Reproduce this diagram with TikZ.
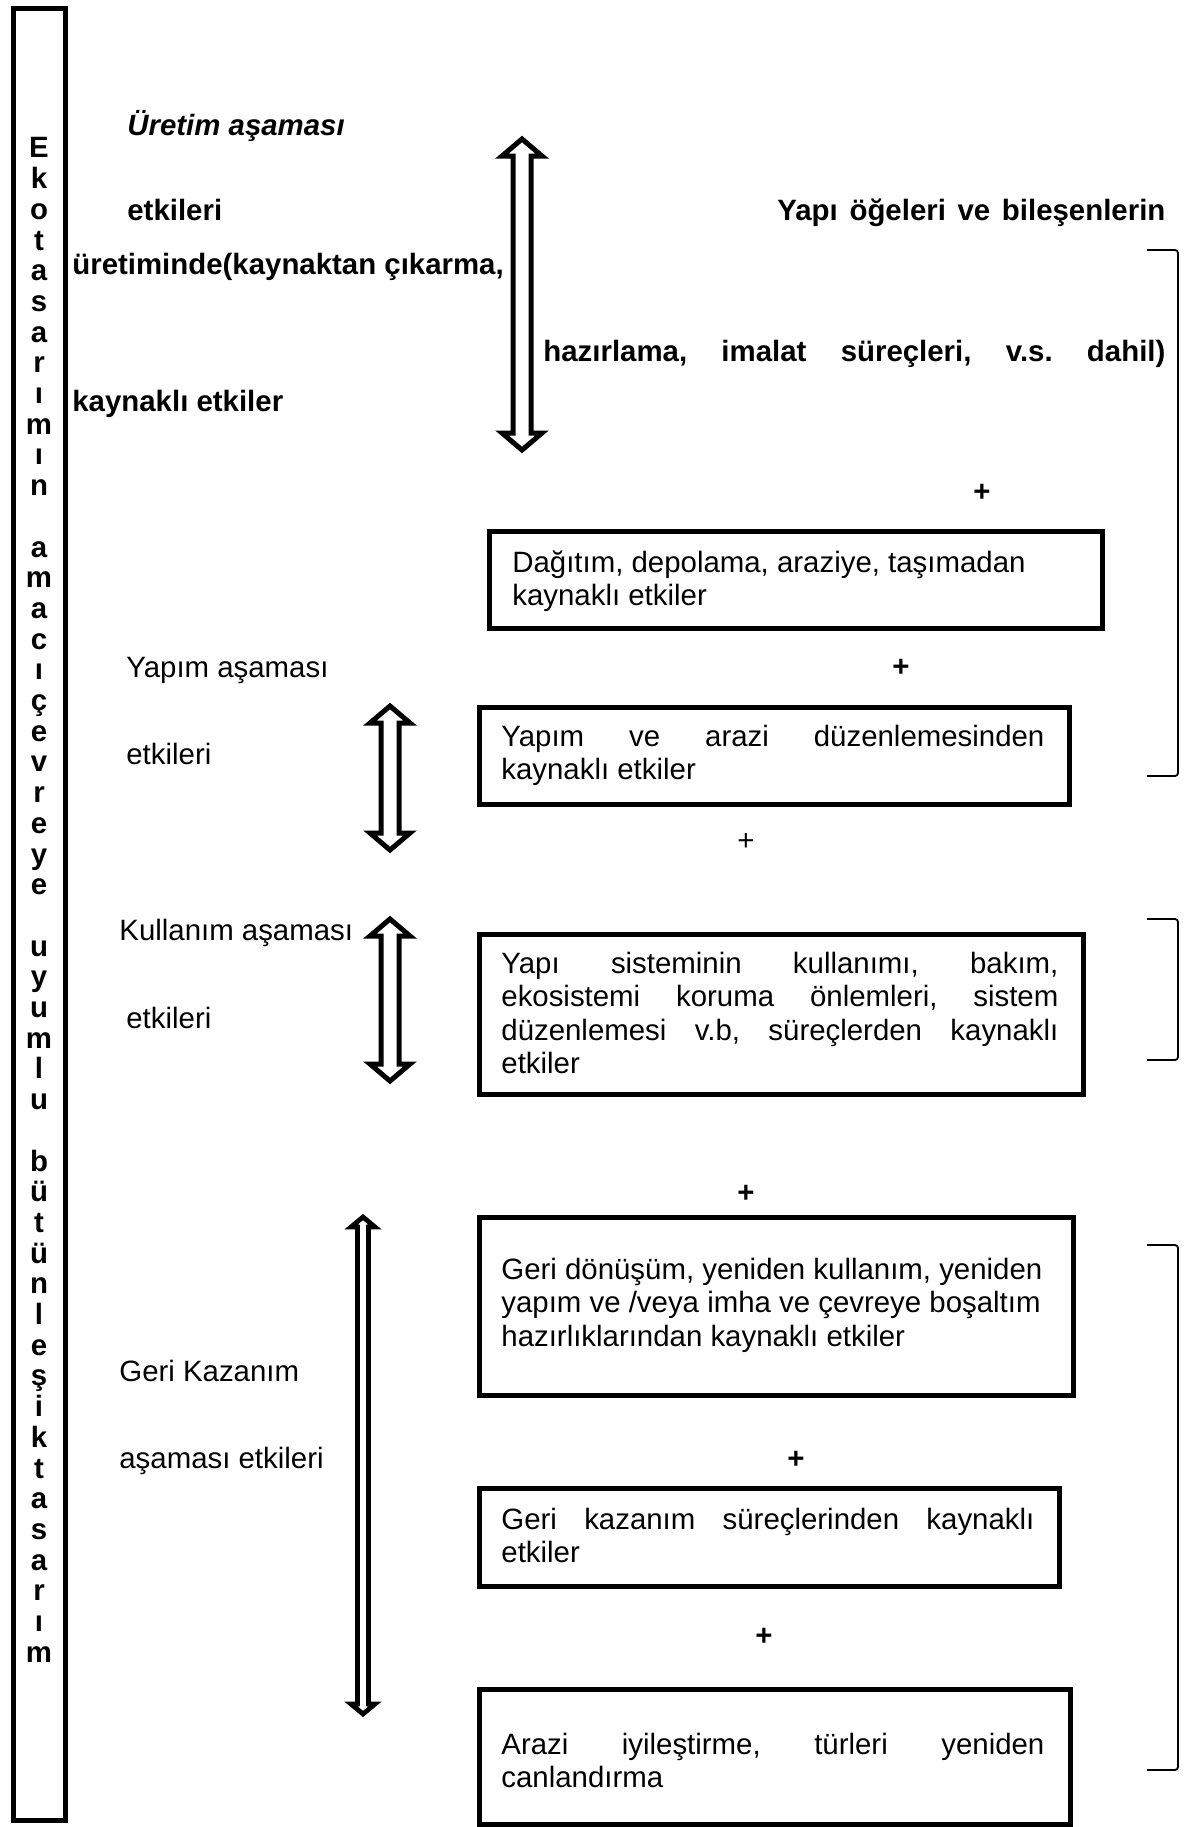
\documentclass[tikz,border=0pt]{standalone}
\usepackage{fontspec}
\setmainfont{Liberation Sans}
\frenchspacing

% the font's own interword space (node alignment otherwise fixes it)
\newcommand\natspace{\spaceskip=0pt\xspaceskip=0pt\relax}
% a line of text spread to a fixed width (justified line)
\newcommand\jline[2]{{\natspace\makebox[#1][s]{#2}}}

% outlined double-headed block arrow:
% centre x, top tip y, bottom tip y, head half-width, shaft half-width, head length
\newcommand\dblarrow[7][]{%
  \draw[blockarrow,#1] (#2,#3) -- ({#2+#5},{#3+#7}) -- ({#2+#6},{#3+#7})
    -- ({#2+#6},{#4-#7}) -- ({#2+#5},{#4-#7}) -- (#2,#4)
    -- ({#2-#5},{#4-#7}) -- ({#2-#6},{#4-#7}) -- ({#2-#6},{#3+#7})
    -- ({#2-#5},{#3+#7}) -- cycle;}

\tikzset{
  plaintext/.style={inner sep=0pt, anchor=base west,
    font=\fontsize{14.7pt}{16.7pt}\selectfont},
  boldtext/.style={plaintext, font=\fontsize{14.7pt}{16.7pt}\selectfont\bfseries},
  bolditalic/.style={plaintext, font=\fontsize{14.7pt}{16.7pt}\selectfont\bfseries\itshape},
  boxframe/.style={draw, line width=2.5pt, inner sep=0pt, anchor=north west},
  boxtext/.style={inner sep=0pt, anchor=north west, text width=#1, align=left,
    font=\fontsize{14.7pt}{16.7pt}\selectfont},
  vertword/.style={inner sep=0pt, anchor=north, align=center,
    font=\fontsize{14.7pt}{15.35pt}\selectfont\bfseries},
  plussign/.style={inner sep=0pt, font=\fontsize{14.7pt}{16.7pt}\selectfont},
  boldplus/.style={plussign, font=\fontsize{14.7pt}{16.7pt}\selectfont\bfseries},
  blockarrow/.style={draw, line width=2.5pt, fill=white, line join=miter},
  bracket/.style={line width=0.9pt, rounded corners=1.5pt},
}

\begin{document}
\begin{tikzpicture}[x=0.5pt, y=-0.5pt]
\useasboundingbox (0,0) rectangle (1184,1827);

% left frame with the vertical caption
\node[boxframe, minimum width=25.75pt, minimum height=906pt] (side) at (11,6) {};
\node[vertword] (sidetext) at (39,136) {\strut E\\k\\o\\t\\a\\s\\a\\r\\ı\\m\\ı\\n\\~\\a\\m\\a\\c\\ı\\ç\\e\\v\\r\\e\\y\\e\\~\\u\\y\\u\\m\\l\\u\\~\\b\\ü\\t\\ü\\n\\l\\e\\ş\\i\\k\\t\\a\\s\\a\\r\\ı\\m};

% production stage
\node[bolditalic] (h1) at (127,135) {Üretim aşaması};
\node[boldtext] (h2) at (127,220) {etkileri};
\node[boldtext] (h3) at (777,220) {\jline{194pt}{Yapı öğeleri ve bileşenlerin}};
\node[boldtext] (h4) at (72,274) {üretiminde(kaynaktan çıkarma,};
\node[boldtext] (h5) at (543,361) {\jline{311pt}{hazırlama, imalat süreçleri, v.s. dahil)}};
\node[boldtext] (h6) at (72,411) {kaynaklı etkiler};
\dblarrow{522}{139}{450}{20}{9}{17}

\node[boldplus] (p1) at (982,493) {+};
\node[boxframe, minimum width=306.5pt, minimum height=48.5pt] (b1) at (487,529) {};
\node[boxtext=281.5pt] (t1) at (512,548.6) {\natspace\strut Dağıtım, depolama, araziye, taşımadan\\kaynaklı etkiler};

% construction stage
\node[boldplus] (p2) at (901,668) {+};
\node[plaintext] (y1) at (126,677) {Yapım aşaması};
\node[plaintext] (y2) at (126,764) {etkileri};
\dblarrow{390}{706}{850}{20}{9}{17}
\node[boxframe, minimum width=295pt, minimum height=48.5pt] (b2) at (477,705) {};
\node[boxtext=271.5pt] (t2) at (501,722.6) {\natspace\strut\jline{271.5pt}{Yapım ve arazi düzenlemesinden}\\kaynaklı etkiler};

\node[plussign] (p3) at (746,842) {+};

% use stage
\node[plaintext] (k1) at (119,940) {Kullanım aşaması};
\node[plaintext] (k2) at (126,1028) {etkileri};
\dblarrow{390}{919}{1081}{20}{9}{17}
\node[boxframe, minimum width=302pt, minimum height=80pt] (b3) at (477,932) {};
\node[boxtext=278.5pt] (t3) at (501,949.6) {\natspace\strut\jline{278.5pt}{Yapı sisteminin kullanımı, bakım,}\\\jline{278.5pt}{ekosistemi koruma önlemleri, sistem}\\\jline{278.5pt}{düzenlemesi v.b, süreçlerden kaynaklı}\\etkiler};

% recovery stage
\node[boldplus] (p4) at (746,1194) {+};
\node[plaintext] (g1) at (119,1381) {Geri Kazanım};
\node[plaintext] (g2) at (119,1468) {aşaması etkileri};
\dblarrow[line width=2.4pt]{363}{1217}{1714}{12}{5.5}{10}
\node[boxframe, minimum width=297pt, minimum height=89pt] (b4) at (477,1215) {};
\node[boxtext=276pt] (t4) at (501,1255.6) {\natspace\strut Geri dönüşüm, yeniden kullanım, yeniden\\yapım ve /veya imha ve çevreye boşaltım\\hazırlıklarından kaynaklı etkiler};

\node[boldplus] (p5) at (796,1460) {+};
\node[boxframe, minimum width=290pt, minimum height=49pt] (b5) at (477,1486) {};
\node[boxtext=266.5pt] (t5) at (501,1505.6) {\natspace\strut\jline{266.5pt}{Geri kazanım süreçlerinden kaynaklı}\\etkiler};

\node[boldplus] (p6) at (764,1637) {+};
\node[boxframe, minimum width=295.5pt, minimum height=67.5pt] (b6) at (477,1687) {};
\node[boxtext=271.5pt] (t6) at (501,1730.6) {\natspace\strut\jline{271.5pt}{Arazi iyileştirme, türleri yeniden}\\canlandırma};

% right-hand grouping brackets
\draw[bracket] (1147,250) -| (1178,776) -- (1147,776);
\draw[bracket] (1147,919) -| (1178,1060) -- (1147,1060);
\draw[bracket] (1147,1245) -| (1178,1770) -- (1147,1770);
\end{tikzpicture}
\end{document}
